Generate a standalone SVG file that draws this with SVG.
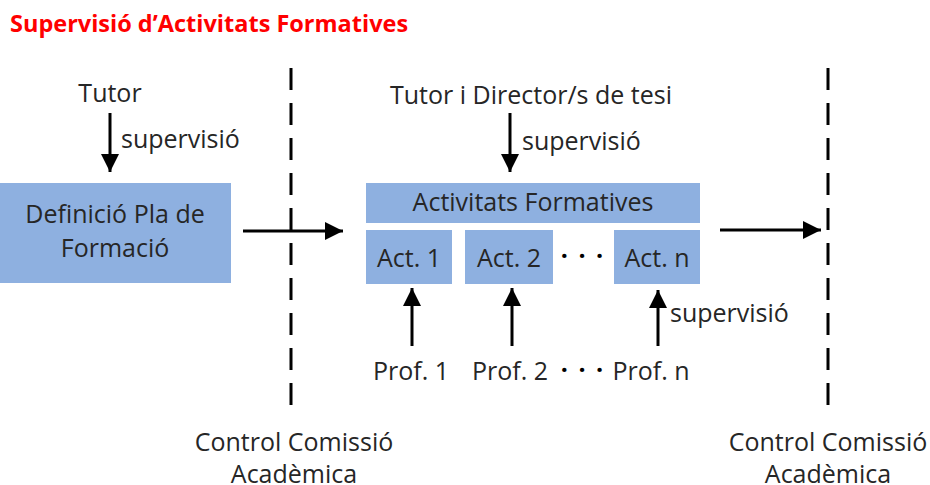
<svg xmlns="http://www.w3.org/2000/svg" width="930" height="485" viewBox="0 0 930 485">
<defs>
<style>
text{font-family:"Open Sans","Liberation Sans",sans-serif;fill:#262626;font-size:25px}
.t{text-anchor:middle}
.title{fill:#ff0000;font-weight:bold;font-size:23.5px}
.dots{fill:#000;font-weight:bold;letter-spacing:2px}
.box{fill:#8eb0e0}
.line{stroke:#000;stroke-width:3;fill:none}
.dash{stroke:#000;stroke-width:3;stroke-dasharray:22 13;fill:none}
</style>
<marker id="ah" viewBox="0 0 10 10" refX="10" refY="5" markerWidth="6" markerHeight="6" markerUnits="strokeWidth" orient="auto">
<path d="M0,0 L10,5 L0,10 z" fill="#000"/>
</marker>
</defs>
<rect width="930" height="485" fill="#fff"/>
<text class="title" x="10" y="32">Supervisió d’Activitats Formatives</text>
<g id="dividers">
<line class="dash" x1="291" y1="68" x2="291" y2="418"/>
<line class="dash" x1="828" y1="68" x2="828" y2="418"/>
</g>
<g id="tutor"><text class="t" x="110" y="102">Tutor</text></g>
<g id="definicio">
<rect class="box" x="0" y="183" width="231" height="100"/>
<text class="t" x="115" y="223">Definició Pla de</text>
<text class="t" x="115" y="257">Formació</text>
</g>
<g id="tutor-director"><text class="t" x="531" y="104">Tutor i Director/s de tesi</text></g>
<g id="activitats">
<rect class="box" x="366" y="183" width="334" height="40"/>
<text class="t" x="533" y="211">Activitats Formatives</text>
</g>
<g id="act1"><rect class="box" x="366" y="230" width="86" height="54"/><text class="t" x="409" y="267">Act. 1</text></g>
<g id="act2"><rect class="box" x="465" y="230" width="88" height="54"/><text class="t" x="509" y="267">Act. 2</text></g>
<g id="actdots"><text class="t dots" x="583" y="265">· · ·</text></g>
<g id="actn"><rect class="box" x="614" y="230" width="86" height="54"/><text class="t" x="657" y="267">Act. n</text></g>
<g id="prof1"><text class="t" x="411" y="380">Prof. 1</text></g>
<g id="prof2"><text class="t" x="510" y="380">Prof. 2</text></g>
<g id="profdots"><text class="t dots" x="583" y="379">· · ·</text></g>
<g id="profn"><text class="t" x="651" y="380">Prof. n</text></g>
<g id="control1"><text class="t" x="294" y="451">Control Comissió</text><text class="t" x="294" y="483">Acadèmica</text></g>
<g id="control2"><text class="t" x="828" y="451">Control Comissió</text><text class="t" x="828" y="483">Acadèmica</text></g>
<g id="connectors">
<line class="line" x1="110" y1="113" x2="110" y2="172" marker-end="url(#ah)"/>
<line class="line" x1="510" y1="113" x2="510" y2="172" marker-end="url(#ah)"/>
<line class="line" x1="243" y1="231" x2="343" y2="231" marker-end="url(#ah)"/>
<line class="line" x1="720" y1="230" x2="821" y2="230" marker-end="url(#ah)"/>
<line class="line" x1="412" y1="346" x2="412" y2="288" marker-end="url(#ah)"/>
<line class="line" x1="512" y1="346" x2="512" y2="288" marker-end="url(#ah)"/>
<line class="line" x1="658" y1="346" x2="658" y2="290" marker-end="url(#ah)"/>
<text x="121" y="148">supervisió</text>
<text x="522" y="150">supervisió</text>
<text x="670" y="322">supervisió</text>
</g>
</svg>
